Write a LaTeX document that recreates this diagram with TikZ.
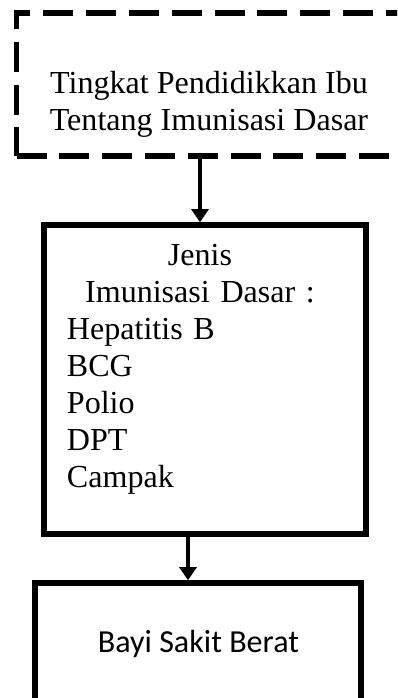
\documentclass[tikz,border=0pt]{standalone}
\usepackage{fontspec}
\setmainfont{Liberation Serif}
\newfontfamily\calibrifont{Carlito}
\usepackage{tikz}
\usetikzlibrary{arrows.meta, positioning, fit}

\begin{document}
\begin{tikzpicture}[
    x=0.025cm, y=-0.025cm,
    txt/.style={font=\fontsize{22.8pt}{26.3pt}\selectfont, inner sep=0pt, align=center},
    dashbox/.style={draw=black, line width=0.14cm, inner sep=0pt,
                    dash pattern=on 0.75cm off 0.32cm},
    solidbox/.style={draw=black, line width=0.14cm, inner sep=0pt},
    arrow/.style={-{Triangle[width=0.43cm, length=0.33cm]}, line width=0.1cm}
]
\useasboundingbox (0,0) rectangle (397,698);
\clip (0,0) rectangle (397,698);
% education level
\node[txt] (pendtxt) at (209,104) {Tingkat Pendidikkan Ibu\\Tentang Imunisasi Dasar};
\node[dashbox, fit={(16.5,13) (401.5,156)}] (pend) {};
% kinds of immunisation
\node[txt, text width=6.65cm, align=left] (jenistxt) at (200,369)
    {{\centering Jenis\\Imunisasi Dasar :\par}
     Hepatitis B\\BCG\\Polio\\DPT\\Campak};
\node[solidbox, fit={(44,225) (366,534)}] (jenis) {};
% outcome
\node[txt, font=\calibrifont\fontsize{22.8pt}{26.3pt}\selectfont, anchor=base] (bayitxt) at (198.5,652) {Bayi Sakit Berat};
\node[solidbox, fit={(35,583) (361,740)}] (bayi) {};
\coordinate (ax1) at (200,0);
\coordinate (ax2) at (188,0);
\draw[arrow] (pend.south -| ax1) -- (jenis.north -| ax1);
\draw[arrow] (jenis.south -| ax2) -- (bayi.north -| ax2);
\end{tikzpicture}
\end{document}
